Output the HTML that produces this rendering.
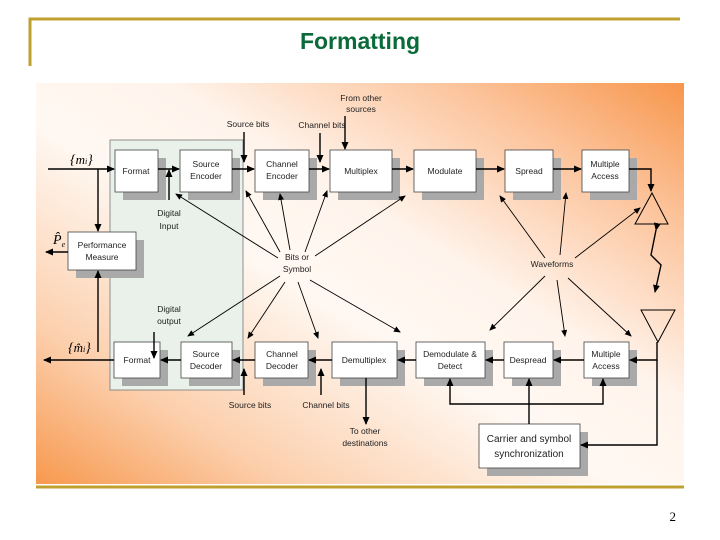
<!DOCTYPE html>
<html><head><meta charset="utf-8"><style>
html,body{margin:0;padding:0;background:#fff;}
svg{display:block;font-family:"Liberation Sans",sans-serif;}
</style></head><body>
<svg width="720" height="540" viewBox="0 0 720 540" xmlns="http://www.w3.org/2000/svg">
<defs>
<linearGradient id="bg" x1="0" y1="1" x2="1" y2="0">
<stop offset="0" stop-color="#f7994f"/>
<stop offset="0.2" stop-color="#fcd0ae"/>
<stop offset="0.45" stop-color="#fff8f2"/>
<stop offset="0.6" stop-color="#fff4ec"/>
<stop offset="0.82" stop-color="#fcc49c"/>
<stop offset="1" stop-color="#f7964c"/>
</linearGradient>
<marker id="a" markerWidth="8" markerHeight="8" refX="7" refY="4" orient="auto" markerUnits="userSpaceOnUse"><path d="M0,0.5 L8,4 L0,7.5 z" fill="#000"/></marker>
<marker id="s" markerWidth="7" markerHeight="7" refX="6" refY="3" orient="auto" markerUnits="userSpaceOnUse"><path d="M0,0 L7,3 L0,6 z" fill="#000"/></marker>
</defs>
<path d="M30,66 V19 H680" stroke="#c0a030" stroke-width="3" fill="none"/>
<text x="360" y="49" text-anchor="middle" font-size="23" font-weight="bold" fill="#0b6a3a">Formatting</text>
<rect x="36" y="83" width="648" height="401" fill="url(#bg)"/>
<line x1="36" y1="487" x2="684" y2="487" stroke="#c0a030" stroke-width="3"/>
<text x="676" y="521" text-anchor="end" font-size="13" font-family="Liberation Serif,serif">2</text>
<rect x="110" y="140" width="133" height="250" fill="#e9f1ea" stroke="#777" stroke-width="0.8"/>
<g fill="#a9a9a9">
<rect x="123" y="158" width="43" height="42"/><rect x="188" y="158" width="52" height="42"/>
<rect x="263" y="158" width="54" height="42"/><rect x="338" y="158" width="62" height="42"/>
<rect x="422" y="158" width="62" height="42"/><rect x="513" y="158" width="48" height="42"/>
<rect x="590" y="158" width="47" height="42"/>
<rect x="76" y="240" width="68" height="38"/>
<rect x="122" y="350" width="46" height="36"/><rect x="189" y="350" width="51" height="36"/>
<rect x="263" y="350" width="53" height="36"/><rect x="340" y="350" width="65" height="36"/>
<rect x="424" y="350" width="69" height="36"/><rect x="512" y="350" width="49" height="36"/>
<rect x="592" y="350" width="45" height="36"/>
<rect x="487" y="432" width="101" height="44"/>
</g>
<g fill="#fff" stroke="#444" stroke-width="0.8">
<rect x="115" y="150" width="43" height="42"/><rect x="180" y="150" width="52" height="42"/>
<rect x="255" y="150" width="54" height="42"/><rect x="330" y="150" width="62" height="42"/>
<rect x="414" y="150" width="62" height="42"/><rect x="505" y="150" width="48" height="42"/>
<rect x="582" y="150" width="47" height="42"/>
<rect x="68" y="232" width="68" height="38"/>
<rect x="114" y="342" width="46" height="36"/><rect x="181" y="342" width="51" height="36"/>
<rect x="255" y="342" width="53" height="36"/><rect x="332" y="342" width="65" height="36"/>
<rect x="416" y="342" width="69" height="36"/><rect x="504" y="342" width="49" height="36"/>
<rect x="584" y="342" width="45" height="36"/>
<rect x="479" y="424" width="101" height="44"/>
</g>
<g font-size="8.5" text-anchor="middle" fill="#222">
<text x="136" y="174">Format</text>
<text x="206" y="167">Source</text><text x="206" y="179">Encoder</text>
<text x="282" y="167">Channel</text><text x="282" y="179">Encoder</text>
<text x="361" y="174">Multiplex</text>
<text x="445" y="174">Modulate</text>
<text x="529" y="174">Spread</text>
<text x="605" y="167">Multiple</text><text x="605" y="179">Access</text>
<text x="102" y="248">Performance</text><text x="102" y="260">Measure</text>
<text x="137" y="363">Format</text>
<text x="206" y="357">Source</text><text x="206" y="369">Decoder</text>
<text x="282" y="357">Channel</text><text x="282" y="369">Decoder</text>
<text x="364" y="363">Demultiplex</text>
<text x="450" y="357">Demodulate &amp;</text><text x="450" y="369">Detect</text>
<text x="528" y="363">Despread</text>
<text x="606" y="357">Multiple</text><text x="606" y="369">Access</text>
<text x="529" y="442" font-size="10">Carrier and symbol</text><text x="529" y="457" font-size="10">synchronization</text>
<text x="248" y="127">Source bits</text><text x="322" y="128">Channel bits</text>
<text x="361" y="101">From other</text><text x="361" y="112">sources</text>
<text x="169" y="216">Digital</text><text x="169" y="229">Input</text>
<text x="297" y="260">Bits or</text><text x="297" y="272">Symbol</text>
<text x="552" y="267">Waveforms</text>
<text x="169" y="312">Digital</text><text x="169" y="324">output</text>
<text x="250" y="408">Source bits</text><text x="326" y="408">Channel bits</text>
<text x="365" y="434">To other</text><text x="365" y="446">destinations</text>
</g>
<g font-family="Liberation Serif,serif" font-style="italic" font-size="14">
<text x="70" y="164">{<tspan font-size="13">m</tspan><tspan font-size="8">i</tspan>}</text>
<text x="68" y="352">{<tspan font-size="13">m̂</tspan><tspan font-size="8">i</tspan>}</text>
<text x="53" y="244">P̂<tspan font-size="8" dy="3">e</tspan></text>
</g>
<g stroke="#000" stroke-width="1.4" fill="none" marker-end="url(#a)">
<line x1="48" y1="169" x2="114" y2="169"/>
<line x1="158" y1="169" x2="179" y2="169"/>
<line x1="232" y1="169" x2="254" y2="169"/>
<line x1="309" y1="169" x2="329" y2="169"/>
<line x1="392" y1="169" x2="413" y2="169"/>
<line x1="476" y1="169" x2="504" y2="169"/>
<line x1="553" y1="169" x2="581" y2="169"/>
<polyline points="629,169 651,169 651,191"/>
<line x1="98" y1="169" x2="98" y2="231"/>
<line x1="68" y1="252" x2="46" y2="252"/>
<line x1="98" y1="352" x2="98" y2="271"/>
<line x1="114" y1="360" x2="44" y2="360"/>
<line x1="181" y1="360" x2="161" y2="360"/>
<line x1="255" y1="360" x2="233" y2="360"/>
<line x1="332" y1="360" x2="309" y2="360"/>
<line x1="416" y1="360" x2="398" y2="360"/>
<line x1="504" y1="360" x2="486" y2="360"/>
<line x1="584" y1="360" x2="554" y2="360"/>
<polyline points="657,342 657,360 630,360"/>
<polyline points="657,360 657,445 581,445"/>
<line x1="169" y1="200" x2="169" y2="170"/>
<line x1="244" y1="132" x2="244" y2="162"/>
<line x1="320" y1="133" x2="320" y2="162"/>
<line x1="345" y1="116" x2="345" y2="149"/>
<line x1="154" y1="332" x2="154" y2="358"/>
<line x1="244" y1="395" x2="244" y2="369"/>
<line x1="321" y1="395" x2="321" y2="369"/>
<line x1="366" y1="378" x2="366" y2="424"/>
<line x1="529" y1="424" x2="529" y2="379"/>
<polyline points="529,404 450,404 450,379"/>
<polyline points="529,404 603,404 603,379"/>
<polyline points="656,230 651,255 661,265 655,292" marker-start="url(#a)"/>
</g>
<g stroke="#000" stroke-width="0.9" fill="none" marker-end="url(#s)">
<line x1="278" y1="258" x2="176" y2="194"/>
<line x1="280" y1="252" x2="246" y2="191"/>
<line x1="290" y1="250" x2="280" y2="194"/>
<line x1="305" y1="252" x2="327" y2="191"/>
<line x1="315" y1="256" x2="405" y2="196"/>
<line x1="280" y1="276" x2="188" y2="336"/>
<line x1="285" y1="282" x2="248" y2="338"/>
<line x1="298" y1="282" x2="318" y2="338"/>
<line x1="310" y1="280" x2="400" y2="332"/>
<line x1="545" y1="258" x2="500" y2="196"/>
<line x1="560" y1="255" x2="566" y2="193"/>
<line x1="575" y1="258" x2="640" y2="208"/>
<line x1="545" y1="276" x2="490" y2="330"/>
<line x1="557" y1="280" x2="565" y2="336"/>
<line x1="568" y1="278" x2="631" y2="336"/>
</g>
<polygon points="652,193 668,224 635,224" fill="none" stroke="#000" stroke-width="1"/>
<polygon points="641,310 675,310 658,342" fill="none" stroke="#000" stroke-width="1"/>
</svg>
</body></html>
